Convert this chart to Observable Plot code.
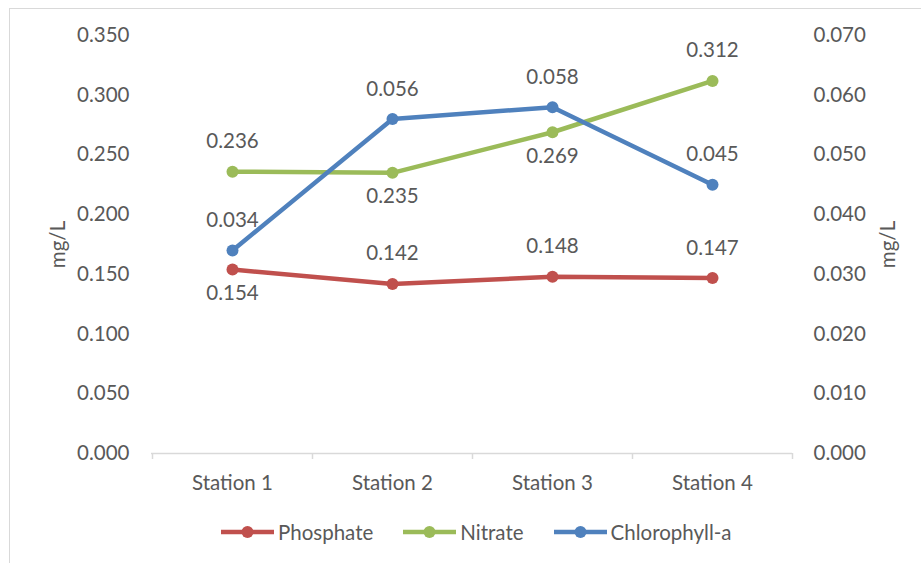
<!DOCTYPE html>
<html>
<head>
<meta charset="utf-8">
<script src="https://cdn.jsdelivr.net/npm/d3@7"></script>
<script src="https://cdn.jsdelivr.net/npm/@observablehq/plot@0.6"></script>
<style>
  html, body { margin: 0; padding: 0; background: #fff; }
  #wrap { position: relative; width: 921px; height: 563px; overflow: hidden; font-family: Lato, "Open Sans", sans-serif; color: #595959; }
  #border { position: absolute; left: 9px; top: 8px; width: 1000px; height: 1000px; border: 1px solid #D9D9D9; box-sizing: border-box; }
  #chart { position: absolute; left: 0; top: 0; }
  #legend { position: absolute; left: 221px; top: 520px; height: 24px; display: flex; align-items: center; font-size: 20.5px; }
  .item { display: flex; align-items: center; margin-right: 30px; }
  .item svg { margin-right: 4px; }
</style>
</head>
<body>
<div id="wrap">
  <div id="border"></div>
  <div id="chart"></div>
  <div id="legend"></div>
</div>
<script>
const stations = ["Station 1", "Station 2", "Station 3", "Station 4"];
const phosphate = [0.154, 0.142, 0.148, 0.147];
const nitrate = [0.236, 0.235, 0.269, 0.312];
const chlorophyll = [0.034, 0.056, 0.058, 0.045];
const leftTicks = [0, 0.05, 0.1, 0.15, 0.2, 0.25, 0.3, 0.35];
const rightMax = 0.07;
const leftMax = 0.35;
const seriesNames = ["Phosphate", "Nitrate", "Chlorophyll-a"];
const colors = ["#C0504D", "#9BBB59", "#4F81BD"];

// label placement: 1 = above, -1 = below
const phosLabelPos = [-1, 1, 1, 1];
const nitLabelPos = [1, -1, -1, 1];
const chlLabelPos = [1, 1, 1, 1];

const k = leftMax / rightMax; // secondary-axis factor
const rows = (vals, name, pos, factor) =>
  stations.map((s, i) => ({station: s, value: vals[i], y: vals[i] * factor, series: name, pos: pos[i]}));

const phosRows = rows(phosphate, "Phosphate", phosLabelPos, 1);
const nitRows = rows(nitrate, "Nitrate", nitLabelPos, 1);
const chlRows = rows(chlorophyll, "Chlorophyll-a", chlLabelPos, k);

const textColor = "#595959";
const fs = 20.5;

function seriesMarks(data, color) {
  return [
    Plot.line(data, {x: "station", y: "y", stroke: color, strokeWidth: 4.5}),
    Plot.dot(data, {x: "station", y: "y", fill: color, r: 6}),
    Plot.text(data.filter(d => d.pos > 0), {x: "station", y: "y", text: d => d.value.toFixed(3), dy: -30, fill: textColor, fontSize: fs, lineAnchor: "middle"}),
    Plot.text(data.filter(d => d.pos < 0), {x: "station", y: "y", text: d => d.value.toFixed(3), dy: 24, fill: textColor, fontSize: fs, lineAnchor: "middle"})
  ];
}

const chart = Plot.plot({
  width: 921,
  height: 563,
  marginLeft: 151,
  marginRight: 129,
  marginTop: 35,
  marginBottom: 110,
  style: {fontFamily: "Lato, 'Open Sans', sans-serif", fontSize: fs + "px", color: textColor, background: "transparent"},
  x: {type: "point", domain: stations, padding: 0.5},
  y: {domain: [0, leftMax]},
  marks: [
    Plot.axisY(leftTicks, {anchor: "left", tickSize: 0, tickPadding: 22, tickFormat: d => d.toFixed(3), fontSize: fs, fill: textColor, label: null}),
    Plot.axisY(leftTicks, {anchor: "right", tickSize: 0, tickPadding: 21, tickFormat: d => (d / k).toFixed(3), fontSize: fs, fill: textColor, label: null}),
    Plot.axisX(stations, {anchor: "bottom", tickSize: 0, tickPadding: 22, fontSize: fs, fill: textColor, label: null}),
    Plot.ruleY([0], {stroke: "#D9D9D9", strokeWidth: 1.5}),
    Plot.ruleX(stations, {x: d => d, y1: 0, y2: 0, insetBottom: -6, dx: -80, stroke: "#D9D9D9", strokeWidth: 1.5}),
    Plot.ruleX([stations[stations.length - 1]], {x: d => d, y1: 0, y2: 0, insetBottom: -6, dx: 80, stroke: "#D9D9D9", strokeWidth: 1.5}),
    Plot.text(["mg/L"], {frameAnchor: "left", dx: -93, rotate: -90, textAnchor: "middle", fontSize: fs, fill: textColor, lineAnchor: "middle"}),
    Plot.text(["mg/L"], {frameAnchor: "right", dx: 96, rotate: -90, textAnchor: "middle", fontSize: fs, fill: textColor, lineAnchor: "middle"}),
    ...seriesMarks(phosRows, colors[0]),
    ...seriesMarks(nitRows, colors[1]),
    ...seriesMarks(chlRows, colors[2])
  ]
});
document.getElementById("chart").appendChild(chart);

const legend = document.getElementById("legend");
seriesNames.forEach((name, i) => {
  const item = document.createElement("div");
  item.className = "item";
  item.innerHTML = `<svg width="53" height="14"><line x1="0" y1="7" x2="53" y2="7" stroke="${colors[i]}" stroke-width="4.5"/><circle cx="26.5" cy="7" r="6" fill="${colors[i]}"/></svg><span>${name}</span>`;
  legend.appendChild(item);
});
</script>
</body>
</html>
